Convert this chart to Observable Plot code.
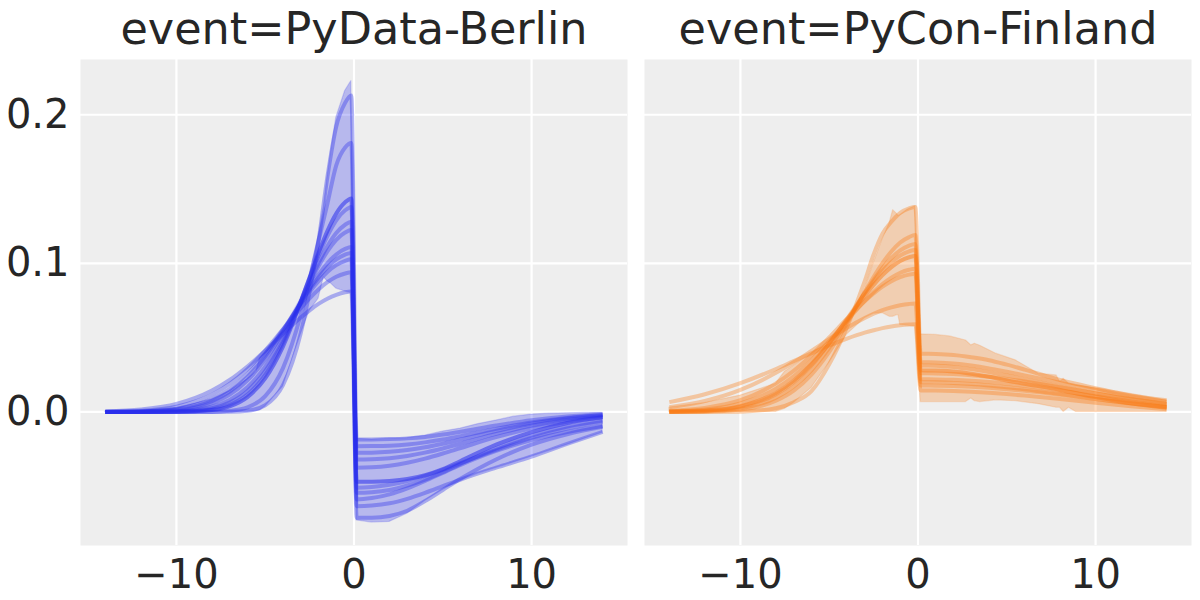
<!DOCTYPE html>
<html><head><meta charset="utf-8">
<script src="https://cdn.jsdelivr.net/npm/d3@7"></script>
<script src="https://cdn.jsdelivr.net/npm/@observablehq/plot@0.6"></script>
<style>
body{margin:0;background:#fff;font-family:"DejaVu Sans",sans-serif;}
</style></head><body><div id="chart"></div>
<script>
const events = ["PyData-Berlin", "PyCon-Finland"];
const colors = ["#2a2eec", "#fa7c17"];
const xTicks = [-10, 0, 10];
const yTicks = [0, 0.1, 0.2];

// x positions of the sampled curves (before and after the event day)
const xLeft = [-14, -12, -10, -8, -7, -6, -5, -4, -3, -2.5, -2, -1.5, -1, -0.5, -0.15];
const xRight = [0.15, 1, 2, 3, 4, 5, 6, 8, 10, 12, 14];

// PyData-Berlin: sample curves before the event
const berlinBefore = [
  [0, 0, 0, 0, 0.0001, 0.0008, 0.0045, 0.018, 0.053, 0.081, 0.115, 0.158, 0.192, 0.208, 0.213],
  [0, 0, 0, 0, 0.0007, 0.0031, 0.0106, 0.0295, 0.0652, 0.089, 0.115, 0.140, 0.166, 0.178, 0.181],
  [0, 0, 0.0001, 0.0017, 0.0048, 0.0117, 0.0249, 0.0461, 0.0745, 0.0899, 0.1049, 0.1183, 0.1289, 0.1357, 0.138],
  [0, 0, 0.0005, 0.0035, 0.008, 0.0166, 0.0305, 0.0503, 0.0742, 0.0865, 0.098, 0.108, 0.1158, 0.1207, 0.1224],
  [0, 0.0001, 0.0011, 0.0059, 0.0117, 0.0213, 0.0352, 0.0532, 0.0734, 0.0833, 0.0924, 0.1001, 0.106, 0.1097, 0.111],
  [0.0001, 0.0004, 0.0022, 0.0087, 0.0155, 0.0256, 0.0391, 0.0554, 0.0726, 0.0807, 0.088, 0.0942, 0.0988, 0.1017, 0.1027],
  [0.0001, 0.0008, 0.0035, 0.0115, 0.0188, 0.0288, 0.0413, 0.0556, 0.0699, 0.0765, 0.0824, 0.0873, 0.091, 0.0932, 0.094],
  [0.0004, 0.0017, 0.0054, 0.0144, 0.0215, 0.0306, 0.0412, 0.0526, 0.0635, 0.0684, 0.0727, 0.0762, 0.0788, 0.0805, 0.081],
  [0, 0, 0.0003, 0.0025, 0.0063, 0.014, 0.0275, 0.0478, 0.0736, 0.0871, 0.1001, 0.1115, 0.1204, 0.126, 0.128],
  [0, 0.0003, 0.0016, 0.0073, 0.0137, 0.0236, 0.0374, 0.0546, 0.0733, 0.0823, 0.0904, 0.0973, 0.1026, 0.1059, 0.107]
];
// PyData-Berlin: sample curves after the event
const berlinAfter = [
  [-0.0185, -0.0185, -0.0183, -0.0178, -0.0168, -0.0152, -0.0133, -0.0092, -0.0056, -0.0031, -0.0016],
  [-0.051, -0.0505, -0.049, -0.0465, -0.043, -0.039, -0.0345, -0.0255, -0.0175, -0.0112, -0.0068],
  [-0.0231, -0.023, -0.0227, -0.0219, -0.0205, -0.0186, -0.0163, -0.0114, -0.0071, -0.004, -0.0021],
  [-0.0544, -0.054, -0.0525, -0.0495, -0.0455, -0.0405, -0.035, -0.0245, -0.016, -0.0098, -0.0058],
  [-0.0275, -0.0274, -0.0268, -0.0256, -0.0238, -0.0214, -0.0186, -0.0128, -0.0079, -0.0044, -0.0023],
  [-0.0589, -0.058, -0.0555, -0.0515, -0.0465, -0.041, -0.0356, -0.0262, -0.019, -0.0135, -0.0095],
  [-0.032, -0.0318, -0.0311, -0.0296, -0.0274, -0.0246, -0.0214, -0.0148, -0.0093, -0.0054, -0.0029],
  [-0.0634, -0.063, -0.0615, -0.0585, -0.0545, -0.05, -0.0455, -0.0375, -0.03, -0.0215, -0.0134],
  [-0.0712, -0.0712, -0.07, -0.0665, -0.06, -0.0525, -0.045, -0.032, -0.022, -0.015, -0.01],
  [-0.0376, -0.0373, -0.0362, -0.0342, -0.0314, -0.028, -0.0243, -0.017, -0.011, -0.0066, -0.0037]
];
const berlinMeanBefore = [0, 0, 0.0001, 0.0013, 0.0038, 0.010, 0.0226, 0.044, 0.0739, 0.0905, 0.1069, 0.1217, 0.1335, 0.1411, 0.1437];
const berlinMeanAfter = [-0.047, -0.047, -0.0465, -0.0452, -0.0426, -0.0385, -0.033, -0.022, -0.0136, -0.0074, -0.0035];

// PyData-Berlin: HDI band
const berlinBandX = [-14, -12, -10, -8, -7, -6, -5.5, -5.3, -5, -4, -3, -2.5, -2, -1.7, -1.5, -1.3, -1, -0.5, -0.15,
  0.15, 1, 2, 3, 4, 5, 6, 7, 8, 9, 10, 11, 12, 13, 14];
const berlinBandHigh = [0.0003, 0.0008, 0.0025, 0.0085, 0.014, 0.022, 0.027, 0.036, 0.040, 0.055, 0.076, 0.092, 0.118, 0.138, 0.158, 0.175, 0.198, 0.216, 0.2227,
  -0.0181, -0.0186, -0.018, -0.0176, -0.016, -0.0132, -0.0112, -0.0082, -0.0058, -0.0032, -0.0018, -0.0012, -0.0009, -0.0007, -0.0006];
const berlinBandLow = [0, 0, 0, 0, 0, 0, 0.0005, 0.001, 0.0035, 0.017, 0.052, 0.068, 0.076, 0.0905, 0.088, 0.0865, 0.083, 0.081, 0.080,
  -0.073, -0.0745, -0.074, -0.0685, -0.06, -0.0525, -0.0462, -0.0415, -0.0378, -0.034, -0.0302, -0.0262, -0.0222, -0.018, -0.014];

// PyCon-Finland: sample curves before the event
const finlandBefore = [
  [0, 0, 0.0002, 0.0025, 0.0065, 0.014, 0.032, 0.057, 0.088, 0.106, 0.12, 0.128, 0.134, 0.137, 0.138],
  [0, 0.0002, 0.0016, 0.0075, 0.0143, 0.0251, 0.0404, 0.0596, 0.0806, 0.0908, 0.1001, 0.108, 0.114, 0.1177, 0.119],
  [0.0001, 0.0004, 0.0024, 0.0096, 0.0171, 0.0282, 0.0431, 0.0609, 0.0799, 0.0888, 0.0968, 0.1036, 0.1087, 0.1119, 0.113],
  [0.0001, 0.0007, 0.0034, 0.0119, 0.02, 0.0313, 0.0459, 0.0626, 0.0798, 0.0878, 0.0949, 0.1008, 0.1053, 0.1081, 0.109],
  [0.0004, 0.0016, 0.0057, 0.0157, 0.024, 0.0347, 0.0475, 0.0613, 0.0747, 0.0807, 0.0861, 0.0904, 0.0937, 0.0957, 0.0964],
  [0.0007, 0.0027, 0.0079, 0.0192, 0.0277, 0.0382, 0.0502, 0.0627, 0.0745, 0.0797, 0.0843, 0.088, 0.0907, 0.0924, 0.093],
  [0.0032, 0.0074, 0.0148, 0.0263, 0.0334, 0.0411, 0.049, 0.0566, 0.0632, 0.0661, 0.0685, 0.0704, 0.0718, 0.0727, 0.073],
  [0.0066, 0.0119, 0.0194, 0.0289, 0.0342, 0.0395, 0.0447, 0.0494, 0.0534, 0.055, 0.0564, 0.0575, 0.0583, 0.0588, 0.059]
];
// PyCon-Finland: sample curves after the event
const finlandAfter = [
  [0.0392, 0.039, 0.0383, 0.0368, 0.0348, 0.0318, 0.0285, 0.0215, 0.016, 0.011, 0.0078],
  [0.0335, 0.0333, 0.0326, 0.0312, 0.0293, 0.027, 0.0246, 0.0196, 0.0148, 0.0104, 0.0068],
  [0.0313, 0.0311, 0.0303, 0.0288, 0.0268, 0.0245, 0.022, 0.017, 0.0124, 0.0085, 0.0054],
  [0.026, 0.0259, 0.0255, 0.0247, 0.0236, 0.0222, 0.0205, 0.0166, 0.0124, 0.0085, 0.0052],
  [0.022, 0.0219, 0.0216, 0.021, 0.0201, 0.019, 0.0176, 0.0143, 0.0106, 0.0071, 0.0042],
  [0.02, 0.0199, 0.0195, 0.0188, 0.0178, 0.0166, 0.0152, 0.012, 0.0087, 0.0056, 0.0031],
  [0.0178, 0.0177, 0.0174, 0.0169, 0.0162, 0.0153, 0.0142, 0.0116, 0.0087, 0.0058, 0.0033],
  [0.0145, 0.0144, 0.0141, 0.0136, 0.0129, 0.012, 0.011, 0.0087, 0.0062, 0.0038, 0.0018]
];
const finlandMeanBefore = [0.0002, 0.0009, 0.0039, 0.0128, 0.021, 0.0322, 0.0462, 0.0621, 0.0781, 0.0855, 0.0921, 0.0975, 0.1016, 0.1041, 0.105];
const finlandMeanAfter = [0.028, 0.0279, 0.0272, 0.0257, 0.0237, 0.0212, 0.019, 0.0148, 0.01, 0.0059, 0.0028];

// PyCon-Finland: HDI band
const finlandBandX = [-14, -12, -10, -8, -7.5, -7, -6, -5, -4, -3, -2.5, -2, -1.6, -1.4, -1.2, -1.1, -1, -0.6, -0.15,
  0.15, 1, 1.8, 2.7, 3.0, 3.2, 3.5, 4.4, 5.5, 6.8, 7.8, 8.0, 8.2, 8.5, 8.9, 10.2, 12.1, 14];
const finlandBandHigh = [0.003, 0.006, 0.011, 0.019, 0.027, 0.031, 0.039, 0.047, 0.060, 0.082, 0.1, 0.116, 0.127, 0.1358, 0.1335, 0.132, 0.1325, 0.136, 0.1385,
  0.0522, 0.0518, 0.0508, 0.0481, 0.0448, 0.0459, 0.0445, 0.0392, 0.0347, 0.0257, 0.0246, 0.0201, 0.0223, 0.019, 0.0179, 0.0157, 0.0118, 0.0078];
const finlandBandLow = [0, 0, 0, 0, 0.002, 0.006, 0.016, 0.033, 0.052, 0.063, 0.066, 0.0665, 0.064, 0.064, 0.065, 0.065, 0.0585, 0.058, 0.0575,
  0.0066, 0.0066, 0.0066, 0.0066, 0.009, 0.0072, 0.0066, 0.0078, 0.0072, 0.0052, 0.0028, 0.0028, 0, 0.0028, 0, 0, 0, 0];

// ---- build tables ----
const xAll = xLeft.concat(xRight);
function curveRows(event, before, after, prefix) {
  const out = [];
  before.forEach((b, i) => {
    const ys = b.concat(after[i]);
    xAll.forEach((x, j) => out.push({event, series: prefix + i, x, y: ys[j]}));
  });
  return out;
}
function bandRows(event, xs, lo, hi) {
  return xs.map((x, i) => ({event, x, lo: lo[i], hi: hi[i]}));
}
const berlinLines = curveRows(events[0], berlinBefore, berlinAfter, "b");
const finlandLines = curveRows(events[1], finlandBefore, finlandAfter, "f");
const berlinMean = curveRows(events[0], [berlinMeanBefore], [berlinMeanAfter], "bm");
const finlandMean = curveRows(events[1], [finlandMeanBefore], [finlandMeanAfter], "fm");
const berlinBand = bandRows(events[0], berlinBandX, berlinBandLow, berlinBandHigh);
const finlandBand = bandRows(events[1], finlandBandX, finlandBandLow, finlandBandHigh);

const fmtX = d => (d < 0 ? "\u2212" + Math.abs(d) : String(d));
const fmtY = d => d.toFixed(1);

function bandMark(data, color) {
  return Plot.areaY(data, {x: "x", y1: "lo", y2: "hi", fx: "event", fill: color, fillOpacity: 0.28,
    stroke: color, strokeOpacity: 0.18, strokeWidth: 1.2, curve: "linear"});
}
function lineMark(data, color, op, w) {
  return Plot.line(data, {x: "x", y: "y", z: "series", fx: "event", stroke: color, strokeOpacity: op,
    strokeWidth: w, curve: "monotone-x", strokeLinejoin: "round", strokeLinecap: "butt"});
}

const chart = Plot.plot({
  width: 1200,
  height: 600,
  marginLeft: 80,
  marginRight: 8,
  marginTop: 59,
  marginBottom: 55,
  style: {fontFamily: "'DejaVu Sans', sans-serif", color: "#262626", background: "#ffffff", overflow: "visible"},
  fx: {domain: events, paddingInner: 0.0294, paddingOuter: 0, axis: null, label: null},
  x: {domain: [-15.4, 15.4], label: null},
  y: {domain: [-0.0899, 0.2372], label: null},
  marks: [
    Plot.frame({fill: "#eeeeee", stroke: "none"}),
    Plot.gridX(xTicks, {stroke: "#ffffff", strokeOpacity: 1, strokeWidth: 2.2}),
    Plot.gridY(yTicks, {stroke: "#ffffff", strokeOpacity: 1, strokeWidth: 2.2}),
    bandMark(berlinBand, colors[0]),
    bandMark(finlandBand, colors[1]),
    lineMark(berlinLines, colors[0], 0.36, 4),
    lineMark(finlandLines, colors[1], 0.36, 4),
    lineMark(berlinMean, colors[0], 0.55, 4),
    lineMark(finlandMean, colors[1], 0.5, 4),
    Plot.axisX(xTicks, {tickSize: 0, tickPadding: 14, fontSize: 40, tickFormat: fmtX, label: null}),
    Plot.axisY(yTicks, {tickSize: 0, tickPadding: 11, fontSize: 40, tickFormat: fmtY, label: null}),
    Plot.text(events, {fx: d => d, text: d => "event=" + d, frameAnchor: "top", lineAnchor: "middle", dy: -30, fontSize: 44.5, fill: "#262626"})
  ]
});
document.getElementById("chart").appendChild(chart);
</script>
</body></html>
